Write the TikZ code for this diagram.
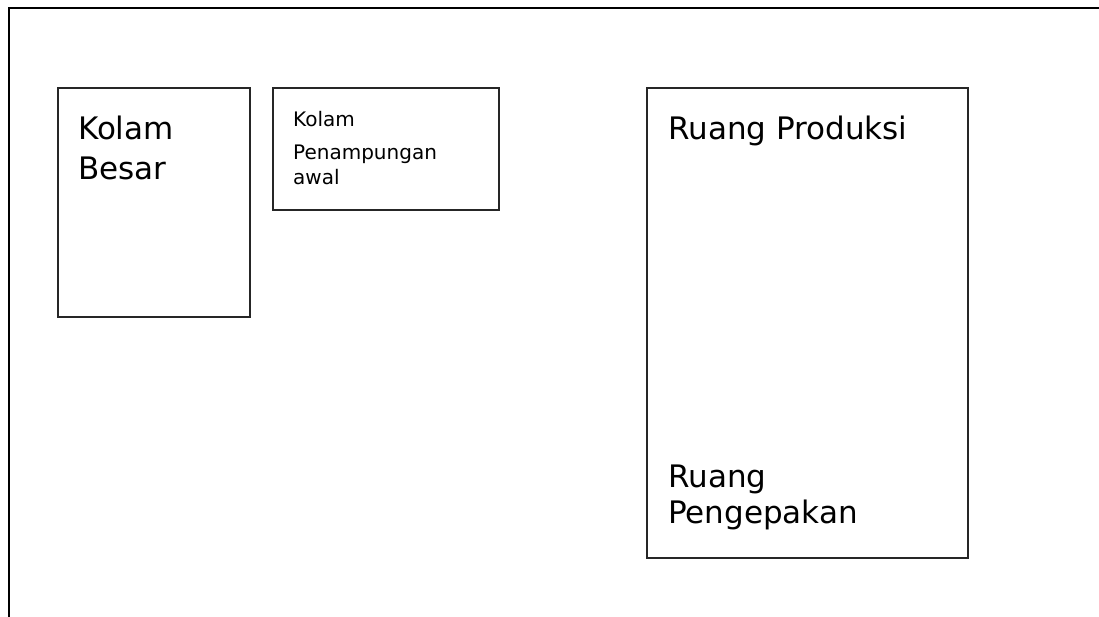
\documentclass[tikz,border=0pt]{standalone}
\usepackage{fontspec}
\setmainfont{DejaVu Sans}
\usepackage{tikz}
\usetikzlibrary{calc}

\begin{document}
\begin{tikzpicture}[x=1pt,y=-1pt]
    \tikzstyle{frame line}=[line width=2pt,color=black]
    \tikzstyle{room}=[line width=1.1pt,color=black!85]
    \tikzstyle{room text}=[black,anchor=base west,inner sep=0pt,font=\fontsize{31}{36}\selectfont]
    \tikzstyle{room text small}=[black,anchor=base west,inner sep=0pt,font=\fontsize{20}{24}\selectfont]
    \useasboundingbox (0,0) rectangle (1099,617);
    % Outer frame
    \coordinate (F1) at (9,617);
    \coordinate (F2) at (9,8);
    \coordinate (F3) at (1099,8);
    \draw[style=frame line] (F1) -- (F2) -- (F3);

    % Kolam Besar
    \coordinate (KB1) at (58,88);
    \coordinate (KB2) at (250,317);
    \draw[style=room] (KB1) rectangle (KB2);
    \node[style=room text] (kb a) at (78,140) {Kolam};
    \node[style=room text] (kb b) at (78,180) {Besar};

    % Kolam Penampungan awal
    \coordinate (KP1) at (273,88);
    \coordinate (KP2) at (499,210);
    \draw[style=room] (KP1) rectangle (KP2);
    \node[style=room text small] (kp a) at (293,127) {Kolam};
    \node[style=room text small] (kp b) at (293,160) {Penampungan};
    \node[style=room text small] (kp c) at (293,185) {awal};

    % Ruang Produksi / Ruang Pengepakan
    \coordinate (RP1) at (647,88);
    \coordinate (RP2) at (968,558);
    \draw[style=room] (RP1) rectangle (RP2);
    \node[style=room text] (rp a) at (668,140) {Ruang Produksi};
    \node[style=room text] (rk a) at (668,487) {Ruang};
    \node[style=room text] (rk b) at (668,523) {Pengepakan};
\end{tikzpicture}
\end{document}
